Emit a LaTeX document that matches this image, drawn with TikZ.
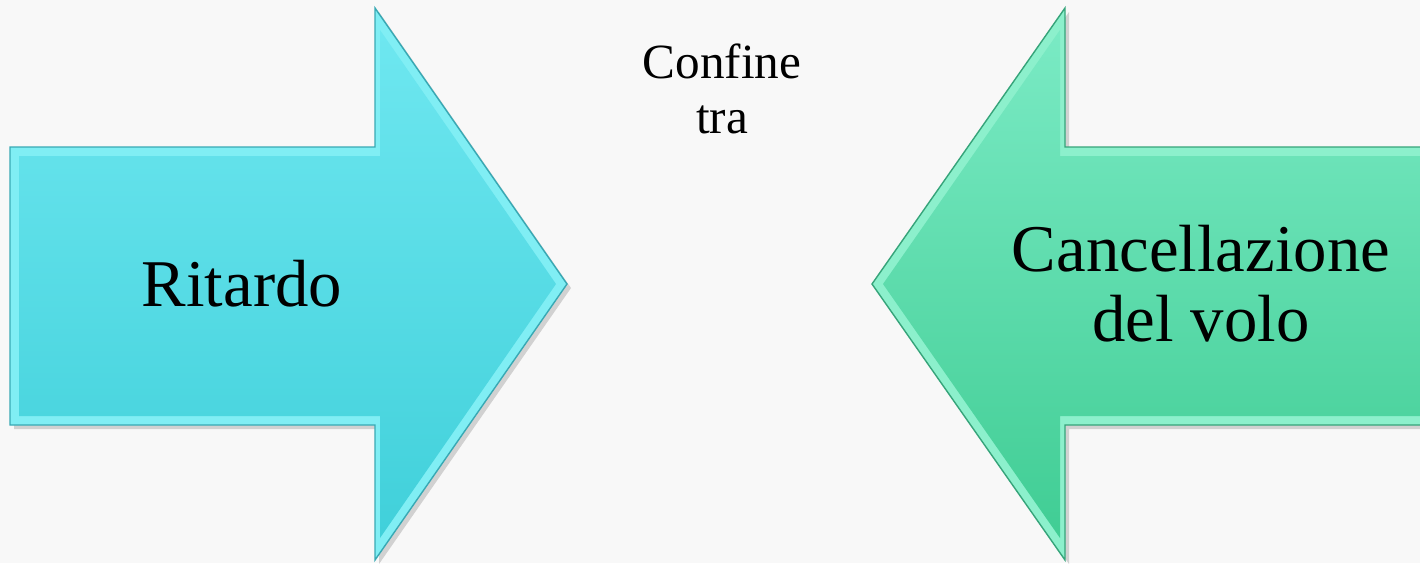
\documentclass[tikz,border=0pt]{standalone}
\usepackage{fontspec}
\setmainfont{Liberation Serif}
\usepackage{tikz}
\usepackage{xcolor}

\definecolor{cyanTop}{HTML}{6EE7F0}
\definecolor{cyanBot}{HTML}{40D0DA}
\definecolor{cyanEdge}{HTML}{80EEF4}
\definecolor{cyanLine}{HTML}{38A9B4}
\definecolor{greenTop}{HTML}{7AEAC4}
\definecolor{greenBot}{HTML}{40CD94}
\definecolor{greenEdge}{HTML}{8CF0CC}
\definecolor{greenLine}{HTML}{36A47A}
\definecolor{paper}{HTML}{F8F8F8}

\tikzset{
	bigtext/.style={font=\fontsize{38}{40}\selectfont, align=center},
	smalltext/.style={font=\fontsize{28}{31}\selectfont, align=center}
}

\begin{document}
\begin{tikzpicture}[x=0.2mm,y=-0.2mm]
					% Background
					\fill[paper] (0,0) rectangle (1420,563);
					\useasboundingbox (0,0) rectangle (1420,563);
					\clip (0,0) rectangle (1420,563);
					
					% Left arrow
					\fill[black!18] (14,151) -- (379,151) -- (379,12) -- (571,288) -- (379,564) -- (379,429) -- (14,429) -- cycle;
					\fill[cyanEdge, draw=cyanLine, line width=0.8] (10,147) -- (375,147) -- (375,8) -- (567,284) -- (375,560) -- (375,425) -- (10,425) -- cycle;
					\shade[top color=cyanTop, bottom color=cyanBot] (19,156) -- (380,156) -- (380,30) -- (556,284) -- (380,538) -- (380,416) -- (19,416) -- cycle;
					
					% Right arrow
					\fill[black!18] (1424,151) -- (1069,151) -- (1069,12) -- (876,288) -- (1069,564) -- (1069,429) -- (1424,429) -- cycle;
					\fill[greenEdge, draw=greenLine, line width=0.8] (1430,147) -- (1065,147) -- (1065,8) -- (872,284) -- (1065,560) -- (1065,425) -- (1430,425) -- cycle;
					\shade[top color=greenTop, bottom color=greenBot] (1430,156) -- (1060,156) -- (1060,30) -- (883,284) -- (1060,538) -- (1060,416) -- (1430,416) -- cycle;
					
					% Labels
					\node[bigtext] (ritardo) at (242,284) {Ritardo};
					\node[bigtext] (cancel) at (1201,284) {Cancellazione\\del volo};
					\node[smalltext] (confine) at (722,89) {Confine\\tra};
				\end{tikzpicture}
\end{document}
